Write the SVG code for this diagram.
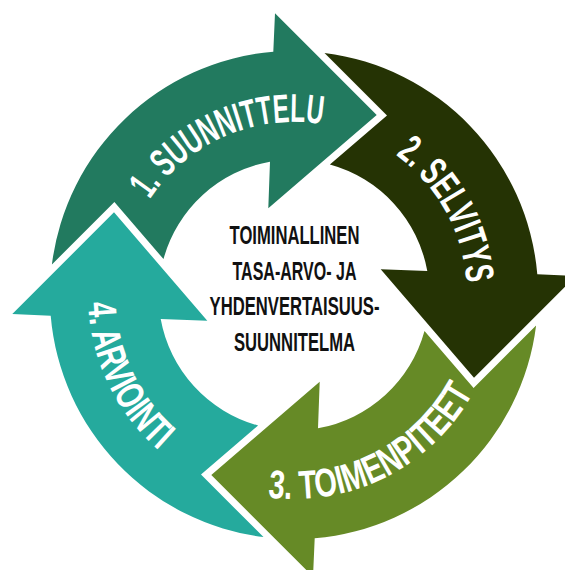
<svg xmlns="http://www.w3.org/2000/svg" xmlns:xlink="http://www.w3.org/1999/xlink" width="565" height="570" viewBox="0 0 565 570">
<style>
.a1{fill:#227a5f}
.a2{fill:#253304}
.a3{fill:#668a26}
.a4{fill:#25aa9d}
.lbl{font-family:"Liberation Sans Narrow","Liberation Sans",Arial,sans-serif;font-weight:700;font-size:40px;fill:#ffffff}
.ctr{font-family:"Liberation Sans",Arial,sans-serif;font-weight:700;font-size:25px;fill:#111111;text-anchor:middle}
</style>
<defs>
<path id="arrowShape" d="M -242.1 -30.5 A 244 244 0 0 1 -20.7 -243.3 L -19 -281.7 L 82.7 -180 L -25.7 -86.7 L -24 -133.3 A 135.4 135.4 0 0 0 -130.5 -35.9 L -179.6 -93 Z"/>
<path id="p1" d="M 149.7 199.5 A 173 173 0 0 1 322.9 124.4"/>
<path id="p2" d="M 395.7 155 A 173 173 0 0 1 466.6 282.9"/>
<path id="p3" d="M 267.7 497.3 A 204 204 0 0 0 473.3 392.4"/>
<path id="p4" d="M 88.2 302.9 A 206 206 0 0 0 158.8 450.5"/>
</defs>
<g id="connectors"></g>
<g id="step1">
<use xlink:href="#arrowShape" href="#arrowShape" class="a1" transform="translate(294 295)"/>
<text class="lbl"><textPath xlink:href="#p1" href="#p1" textLength="199" lengthAdjust="spacingAndGlyphs">1. SUUNNITTELU</textPath></text>
</g>
<g id="step2">
<use xlink:href="#arrowShape" href="#arrowShape" class="a2" transform="translate(294 295) rotate(90)"/>
<text class="lbl"><textPath xlink:href="#p2" href="#p2" textLength="151" lengthAdjust="spacingAndGlyphs">2. SELVITYS</textPath></text>
</g>
<g id="step3">
<use xlink:href="#arrowShape" href="#arrowShape" class="a3" transform="translate(294 295) rotate(180)"/>
<text class="lbl"><textPath xlink:href="#p3" href="#p3" textLength="245" lengthAdjust="spacingAndGlyphs">3. TOIMENPITEET</textPath></text>
</g>
<g id="step4">
<use xlink:href="#arrowShape" href="#arrowShape" class="a4" transform="translate(294 295) rotate(270)"/>
<text class="lbl"><textPath xlink:href="#p4" href="#p4" textLength="168" lengthAdjust="spacingAndGlyphs">4. ARVIOINTI</textPath></text>
</g>
<g id="center">
<text class="ctr" transform="translate(294.5 244) scale(0.663 1)" x="0" y="0" textLength="196" lengthAdjust="spacingAndGlyphs">TOIMINALLINEN</text>
<text class="ctr" transform="translate(294.5 279.5) scale(0.582 1)" x="0" y="0" textLength="213" lengthAdjust="spacingAndGlyphs">TASA-ARVO- JA</text>
<text class="ctr" transform="translate(294.5 315) scale(0.661 1)" x="0" y="0" textLength="257" lengthAdjust="spacingAndGlyphs">YHDENVERTAISUUS-</text>
<text class="ctr" transform="translate(294.5 350.5) scale(0.665 1)" x="0" y="0" textLength="182" lengthAdjust="spacingAndGlyphs">SUUNNITELMA</text>
</g>
</svg>
